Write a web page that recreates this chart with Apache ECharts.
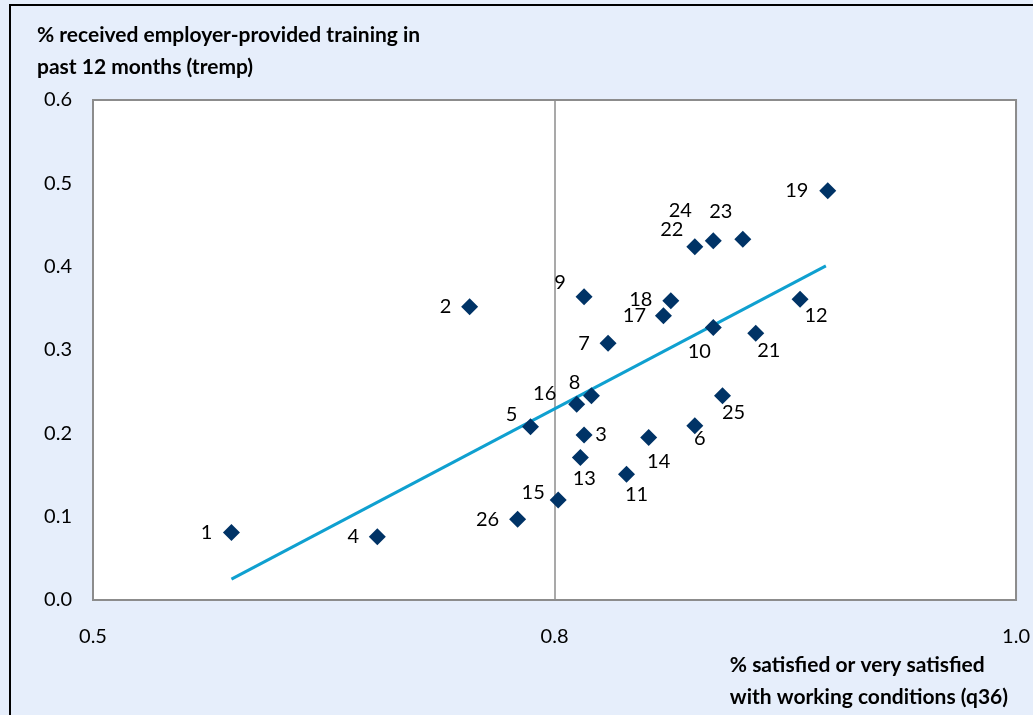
<!DOCTYPE html>
<html>
<head>
<meta charset="utf-8">
<script src="https://cdn.jsdelivr.net/npm/echarts@6/dist/echarts.min.js"></script>
<style>
html,body{margin:0;padding:0;background:#E6EEFB;}
#c{width:1033px;height:715px;}
</style>
</head>
<body>
<div id="c"></div>
<script>
// Data
var ids = ['1','2','3','4','5','6','7','8','9','10','11','12','13','14','15','16','17','18','19','21','22','23','24','25','26'];
var satisfied = [0.575,0.704,0.766,0.654,0.737,0.826,0.779,0.770,0.766,0.836,0.789,0.883,0.764,0.801,0.752,0.762,0.809,0.813,0.898,0.859,0.826,0.852,0.836,0.841,0.730];
var training  = [0.081,0.352,0.198,0.076,0.208,0.209,0.308,0.245,0.364,0.327,0.151,0.361,0.171,0.195,0.120,0.235,0.341,0.359,0.491,0.320,0.424,0.433,0.431,0.245,0.097];
var trendX = [0.575, 0.897];
var trendY = [0.025, 0.401];
var xTicks = [0.5, 0.75, 1.0];
var yTicks = [0.0, 0.1, 0.2, 0.3, 0.4, 0.5, 0.6];

// label offsets (style)
var labelOffsets = {
 '1':[-25,0],'2':[-24,0],'3':[17,0],'4':[-24,0],'5':[-19,-12],'6':[5,13],'7':[-24,0],
 '8':[-17,-13],'9':[-24,-14],'10':[-14,24],'11':[10,20],'12':[16,16],'13':[4,21],
 '14':[10,24],'15':[-25,-7],'16':[-32,-11],'17':[-29,0],'18':[-30,-1],'19':[-31,0],
 '21':[13,17],'22':[-23,-17],'23':[-22,-28],'24':[-33,-30],'25':[11,17],'26':[-30,0]
};

var FONT = 'Lato, "Open Sans", sans-serif';
var pts = ids.map(function(id,i){
  return {
    value:[satisfied[i], training[i]],
    name:id,
    label:{show:true, position:'inside', offset:labelOffsets[id], formatter:id,
           color:'#000', fontSize:20, fontFamily:FONT}
  };
});
var trend = trendX.map(function(x,i){return [x, trendY[i]];});

var chart = echarts.init(document.getElementById('c'));
chart.setOption({
  backgroundColor:'#E6EEFB',
  animation:false,
  grid:{left:93, top:100, right:12, bottom:115, show:true, backgroundColor:'#ffffff', borderColor:'#8c8c8c', borderWidth:2},
  graphic:[
    {type:'rect', shape:{x:10,y:5,width:1100,height:800}, style:{fill:'none', stroke:'#000', lineWidth:2}, silent:true, z:-1},
    {type:'text', left:37, top:19, style:{text:'% received employer-provided training in\npast 12 months (tremp)', font:'bold 21px '+FONT, fill:'#000', lineHeight:32}},
    {type:'text', right:25, top:649, style:{text:'% satisfied or very satisfied\nwith working conditions (q36)', font:'bold 21px '+FONT, fill:'#000', lineHeight:32, align:'right'}}
  ],
  xAxis:{type:'value', min:xTicks[0], max:xTicks[xTicks.length-1], interval:xTicks[1]-xTicks[0],
    axisLine:{show:true, lineStyle:{color:'#8c8c8c', width:2}}, axisTick:{show:false},
    splitLine:{show:true, lineStyle:{color:'#8c8c8c', width:1.5}},
    axisLabel:{margin:27, fontSize:20, fontFamily:FONT, color:'#000', formatter:function(v){return v.toFixed(1);}}},
  yAxis:{type:'value', min:yTicks[0], max:yTicks[yTicks.length-1], interval:yTicks[1]-yTicks[0],
    axisLine:{show:true, lineStyle:{color:'#8c8c8c', width:2}}, axisTick:{show:false},
    splitLine:{show:false},
    axisLabel:{margin:21, fontSize:20, fontFamily:FONT, color:'#000', formatter:function(v){return v.toFixed(1);}}},
  series:[
    {type:'line', data:trend, symbol:'none', lineStyle:{color:'#0FA0D0', width:3}, z:2},
    {type:'scatter', data:pts, symbol:'diamond', symbolSize:17, itemStyle:{color:'#003366', opacity:1}, z:3}
  ]
});
</script>
</body>
</html>
